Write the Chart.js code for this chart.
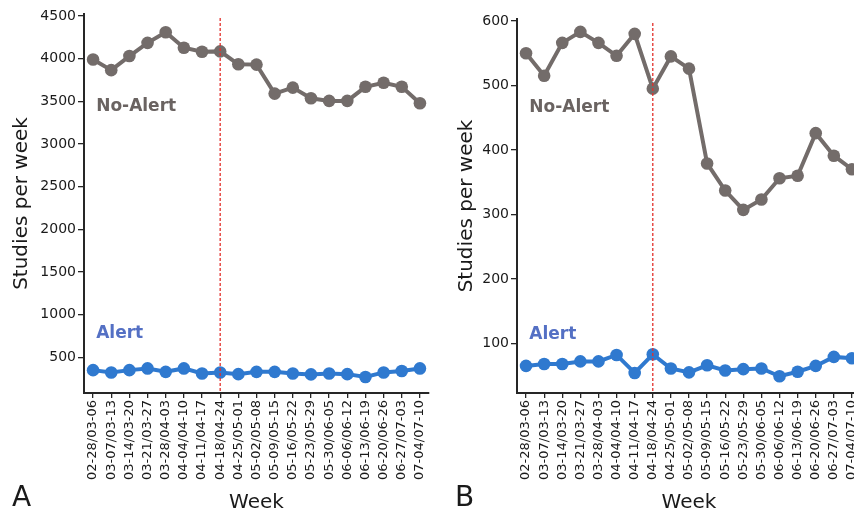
<!DOCTYPE html>
<html>
<head>
<meta charset="utf-8">
<script src="https://cdn.jsdelivr.net/npm/chart.js@4/dist/chart.umd.min.js"></script>
<style>
  html, body { margin: 0; padding: 0; background: #ffffff; overflow: hidden; width: 854px; height: 514px; }
  #wrap { position: relative; width: 854px; height: 514px; overflow: hidden; }
  canvas { position: absolute; top: 0; }
  #cA { left: 0px; }
  #cB { left: 430px; }
</style>
</head>
<body>
<div id="wrap">
  <canvas id="cA" width="440" height="514"></canvas>
  <canvas id="cB" width="440" height="514"></canvas>
</div>
<script>
// ---- data ----
const weeks = ['02-28/03-06', '03-07/03-13', '03-14/03-20', '03-21/03-27', '03-28/04-03',
  '04-04/04-10', '04-11/04-17', '04-18/04-24', '04-25/05-01', '05-02/05-08',
  '05-09/05-15', '05-16/05-22', '05-23/05-29', '05-30/06-05', '06-06/06-12',
  '06-13/06-19', '06-20/06-26', '06-27/07-03', '07-04/07-10'];

const noAlertA = [3990, 3865, 4030, 4185, 4310, 4128, 4081, 4085, 3934, 3930,
  3590, 3660, 3535, 3505, 3505, 3670, 3717, 3670, 3477];
const alertA = [350, 323, 350, 370, 330, 370, 310, 323, 303, 330,
  330, 310, 300, 310, 303, 270, 323, 340, 370];

const noAlertB = [550, 515, 566, 583, 566, 546, 580, 495, 545, 526,
  379, 337, 307, 323, 356, 360, 426, 391, 370];
const alertB = [65, 68, 68, 72, 72, 82, 54, 83, 61, 55,
  66, 58, 60, 61, 49, 56, 65, 79, 77];

const ticksA = [500, 1000, 1500, 2000, 2500, 3000, 3500, 4000, 4500];
const ticksB = [100, 200, 300, 400, 500, 600];

const interventionWeek = '04-18/04-24';

// ---- styles ----
const FONT = 'DejaVu Sans';
const GREY = '#736c6a';
const GREY_TXT = '#6a6361';
const BLUE = '#2f79cf';
const BLUE_TXT = '#5470c4';
const AXIS = '#262626';
const TXT = '#1a1a1a';

Chart.defaults.font.family = FONT;

const panelPlugin = {
  id: 'panelDecor',
  afterDatasetsDraw(chart, args, o) {
    const ctx = chart.ctx;
    const ca = chart.chartArea;
    const xs = chart.scales.x, ys = chart.scales.y;
    // intervention line
    const xv = xs.getPixelForValue(weeks.indexOf(interventionWeek));
    ctx.save();
    ctx.strokeStyle = '#e3302c';
    ctx.lineWidth = 1.3;
    ctx.setLineDash([3, 2]);
    ctx.beginPath();
    ctx.moveTo(xv, ca.top + 4);
    ctx.lineTo(xv, ca.bottom);
    ctx.stroke();
    ctx.restore();
    // series labels
    ctx.save();
    ctx.font = 'bold 17px "' + FONT + '"';
    ctx.textAlign = 'left';
    ctx.textBaseline = 'alphabetic';
    for (const t of o.texts) {
      ctx.fillStyle = t.color;
      ctx.fillText(t.text, xs.getPixelForValue(t.x), ys.getPixelForValue(t.y));
    }
    ctx.restore();
    // axis titles
    ctx.save();
    ctx.fillStyle = TXT;
    ctx.font = '20px "' + FONT + '"';
    ctx.textAlign = 'center';
    ctx.textBaseline = 'alphabetic';
    ctx.fillText('Week', (ca.left + ca.right) / 2, 508);
    ctx.save();
    ctx.translate(o.yTitleX, (ca.top + ca.bottom) / 2);
    ctx.rotate(-Math.PI / 2);
    ctx.textBaseline = 'middle';
    ctx.fillText('Studies per week', 0, 0);
    ctx.restore();
    ctx.font = '28px "' + FONT + '"';
    ctx.textAlign = 'left';
    ctx.fillText(o.letter, o.letterX, 506);
    ctx.restore();
  }
};

function makeChart(id, noAlert, alert, yTicks, yMin, yMax, cfg) {
  return new Chart(document.getElementById(id), {
    type: 'line',
    data: {
      labels: weeks,
      datasets: [
        { label: 'No-Alert', data: noAlert, borderColor: GREY, backgroundColor: GREY,
          borderWidth: 4, pointRadius: 6.3, pointBorderWidth: 0, tension: 0 },
        { label: 'Alert', data: alert, borderColor: BLUE, backgroundColor: BLUE,
          borderWidth: 4, pointRadius: 6.3, pointBorderWidth: 0, tension: 0 }
      ]
    },
    plugins: [panelPlugin],
    options: {
      responsive: false,
      animation: false,
      devicePixelRatio: 1,
      layout: { padding: { top: cfg.top, right: cfg.right, bottom: 0, left: 0 } },
      plugins: {
        legend: { display: false },
        tooltip: { enabled: false },
        panelDecor: cfg.decor
      },
      scales: {
        x: {
          type: 'category',
          offset: true,
          grid: { display: true, drawOnChartArea: false, drawTicks: true, tickLength: 5, color: AXIS, lineWidth: 1.3 },
          border: { display: true, color: AXIS, width: 2 },
          ticks: { color: TXT, font: { size: 13, family: FONT }, minRotation: 90, maxRotation: 90, padding: 2, autoSkip: false },
          afterFit(s) { s.height = 121; }
        },
        y: {
          type: 'linear',
          min: yMin, max: yMax,
          afterBuildTicks(s) { s.ticks = yTicks.map(v => ({ value: v })); },
          grid: { display: true, drawOnChartArea: false, drawTicks: true, tickLength: 6, color: AXIS, lineWidth: 1.3 },
          border: { display: true, color: AXIS, width: 2 },
          ticks: { color: TXT, font: { size: 14, family: FONT }, padding: 2,
                   callback: (v) => String(v) },
          afterFit(s) { s.width = cfg.yWidth; }
        }
      }
    }
  });
}

makeChart('cA', noAlertA, alertA, ticksA, 82, 4523, {
  top: 14, right: 11, yWidth: 84,
  decor: {
    letter: 'A', letterX: 12, yTitleX: 22,
    texts: [
      { text: 'No-Alert', x: 0.17, y: 3381, color: GREY_TXT },
      { text: 'Alert', x: 0.17, y: 726, color: BLUE_TXT }
    ]
  }
});

makeChart('cB', noAlertB, alertB, ticksB, 23, 603, {
  top: 19, right: 9, yWidth: 87,
  decor: {
    letter: 'B', letterX: 25, yTitleX: 37,
    texts: [
      { text: 'No-Alert', x: 0.18, y: 459, color: GREY_TXT },
      { text: 'Alert', x: 0.18, y: 107, color: BLUE_TXT }
    ]
  }
});
</script>
</body>
</html>
